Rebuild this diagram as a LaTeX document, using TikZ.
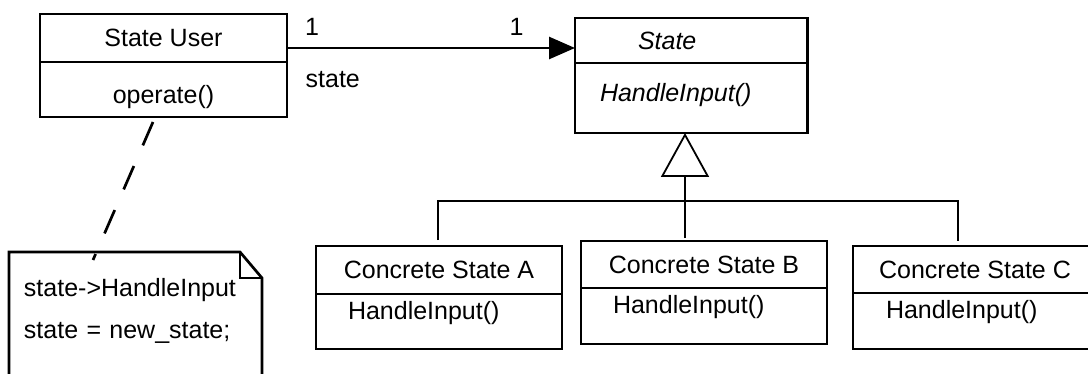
\documentclass[tikz,border=0pt]{standalone}
\usepackage{fontspec}
\setmainfont{Liberation Sans}
\usetikzlibrary{positioning,arrows.meta}

\begin{document}
\begin{tikzpicture}[
    compartment/.style={
        rectangle, draw, inner xsep=4pt, inner ysep=0pt, outer sep=0pt,
        line width=1.35pt, font=\fontsize{12.5pt}{15pt}\selectfont
    },
    member/.style={compartment, align=left, inner xsep=16pt},
    edge/.style={line width=1.35pt},
    assoc/.style={edge, -{Triangle[length=13pt,width=11pt]}},
    inherit/.style={edge, -{Triangle[open,length=22pt,width=24pt,line width=0.9pt]}},
    anchorline/.style={edge, dash pattern=on 12.75pt off 11.25pt},
    tag/.style={inner sep=0pt, font=\fontsize{12.5pt}{15pt}\selectfont}
]
  \useasboundingbox (0,0) rectangle (544pt,-187pt);

  % Nodes
  \node[compartment, minimum width=123.5pt, minimum height=24pt] (userName) at (81.75pt,-19pt) {State User};
  \node[compartment, minimum width=123.5pt, minimum height=27.5pt, text height=16.6pt, text depth=2.6pt,
        below=0pt of userName] (userOps) {operate()};

  \node[compartment, align=left, inner xsep=31.5pt, text width=53.25pt, minimum height=22.5pt,
        font=\fontsize{12.5pt}{15pt}\selectfont\itshape] (stateName) at (345.625pt,-20.25pt) {State};
  \node[member, inner xsep=12.5pt, text width=91.25pt, minimum height=35pt, text height=9.1pt, text depth=5.6pt,
        font=\fontsize{12.5pt}{15pt}\selectfont\itshape, below=0pt of stateName] (stateOps) {HandleInput()};

  \node[compartment, minimum width=123pt, minimum height=24pt] (aName) at (219.5pt,-135pt) {Concrete State A};
  \node[member, text width=91pt, minimum height=27.5pt, text height=9.1pt, text depth=11.1pt,
        below=0pt of aName] (aOps) {HandleInput()};

  \node[compartment, minimum width=123pt, minimum height=23.5pt] (bName) at (352pt,-132.25pt) {Concrete State B};
  \node[member, text width=91pt, minimum height=28pt, text height=9.1pt, text depth=11.6pt,
        below=0pt of bName] (bOps) {HandleInput()};

  \node[compartment, minimum width=122pt, minimum height=23.5pt] (cName) at (487.5pt,-134.75pt) {Concrete State C};
  \node[member, inner xsep=16.5pt, text width=89pt, minimum height=28pt, text height=9.1pt, text depth=11.6pt,
        below=0pt of cName] (cOps) {HandleInput()};

  % Note with folded corner
  \node[anchor=north west, align=left, inner xsep=7.5pt, inner ysep=13.2pt, outer sep=0pt, text width=111.5pt,
        font=\fontsize{12.5pt}{21pt}\selectfont] (note) at (4.5pt,-126pt)
        {state->HandleInput\\state = new\_state;};
  \draw[edge] ([yshift=-30pt]note.south west) -- (note.north west) -- ([xshift=-11pt]note.north east)
      -- ([yshift=-13pt]note.north east) -- ([yshift=-30pt]note.south east);
  \draw[edge] ([xshift=-11pt]note.north east) |- ([yshift=-13pt]note.north east);

  % Edges
  \draw[assoc] ([yshift=-5pt]userName.east) -- ([yshift=-3.75pt]stateName.west)
      node[tag, pos=0.087, above=5.5pt] (srcMult) {1}
      node[tag, pos=0.797, above=5.5pt] (dstMult) {1}
      node[tag, pos=0.159, below=11pt] (role) {state};

  \draw[inherit] ([shift={(-9.5pt,1.5pt)}]bName.north) -- ([xshift=-3.125pt]stateOps.south);
  \draw[edge] ([shift={(-0.5pt,3pt)}]aName.north) -- ++(0,19.5pt) -| ([shift={(-8.5pt,2.5pt)}]cName.north);

  \draw[anchorline] ([shift={(-5.25pt,-2.5pt)}]userOps.south) -- ([shift={(-21.25pt,-4pt)}]note.north);

\end{tikzpicture}
\end{document}
